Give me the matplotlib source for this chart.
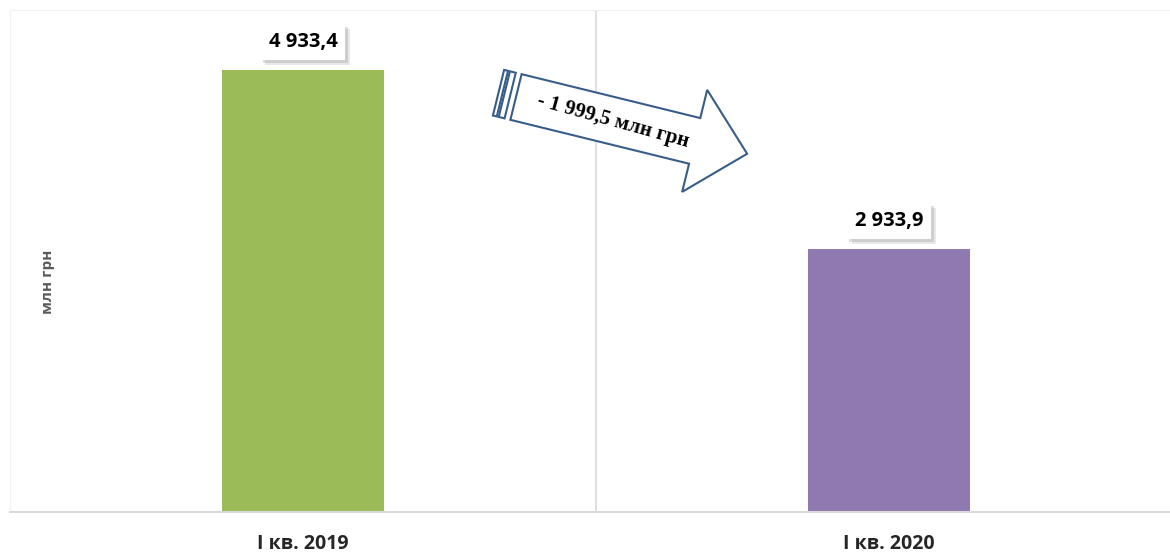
import matplotlib
matplotlib.use("Agg")
import matplotlib.pyplot as plt
import matplotlib.patheffects as pe
from matplotlib.patches import Polygon
from matplotlib.transforms import Affine2D

# Data
kategorier = ["І кв. 2019", "І кв. 2020"]
verdier = [4933.4, 2933.9]
etiketter = ["4 933,4", "2 933,9"]
farger = ["#9BBB59", "#9079B0"]
endring_tekst = "- 1 999,5 млн грн"
y_tekst = "млн грн"

W, H = 1170, 552
fig = plt.figure(figsize=(W / 100, H / 100), dpi=100)

# Axes: left edge at x=10, top at y=10, bottom at y=512 (pixels)
ax = fig.add_axes([10 / W, (H - 512) / H, 1 - 10 / W, (512 - 10) / H])
x = range(len(kategorier))
stolper = ax.bar(x, verdier, width=0.276, color=farger, zorder=2)

ax.set_xlim(-0.5, 0.5 + (1170 - 596) / 586)
ax.set_ylim(0, 5603)
ax.set_xticks([])
ax.set_yticks([])

# Frame: very light outer border, grey base line
for side in ["left", "top", "right"]:
    ax.spines[side].set_color("#F0F0F0")
ax.spines["right"].set_visible(False)
ax.spines["bottom"].set_color("#D9D9D9")
ax.spines["bottom"].set_linewidth(1.5)

# Vertical separator between categories
ax.axvline(0.5, color="#D9D9D9", linewidth=1.2, zorder=1)

# Value labels in white boxes with soft shadow
for xi, v, lab in zip(x, verdier, etiketter):
    t = ax.annotate(lab, (xi, v), xytext=(0, 20), textcoords="offset points",
                    ha="center", va="center", fontsize=14.5, fontweight="bold",
                    family="Open Sans", color="black",
                    bbox=dict(boxstyle="square,pad=0.4", fc="white", ec="none"),
                    zorder=5)
    t.get_bbox_patch().set_path_effects(
        [pe.withSimplePatchShadow(offset=(3.5, -3.5), shadow_rgbFace="#BFBFBF", alpha=0.35),
         pe.withSimplePatchShadow(offset=(2, -2), shadow_rgbFace="#9F9F9F", alpha=0.35)])

# Category labels
for xi, kat in zip(x, kategorier):
    ax.text(xi, -0.064, kat, transform=ax.get_xaxis_transform(), ha="center", va="center",
            fontsize=14, fontweight="bold", family="Open Sans", color="#262626")

# Y label
fig.text(48 / W, (H - 282) / H, y_tekst, rotation=90, ha="center", va="center",
         fontsize=11, fontweight="bold", family="Open Sans", color="#595959")

# Striped block arrow (local coords in pixels, rotated)
vinkel = -13.8
shaft_len, shaft_half, head_half, head_len = 184, 23.5, 52.5, 54
pil = [(0, shaft_half), (shaft_len, shaft_half), (shaft_len, head_half),
       (shaft_len + head_len, 0), (shaft_len, -head_half), (shaft_len, -shaft_half),
       (0, -shaft_half)]
striper = [[(-12, shaft_half), (-6, shaft_half), (-6, -shaft_half), (-12, -shaft_half)],
           [(-18, shaft_half), (-14, shaft_half), (-14, -shaft_half), (-18, -shaft_half)]]
tr = Affine2D().rotate_deg(vinkel).translate(516, H - 97).scale(1 / W, 1 / H) + fig.transFigure
for pts in [pil] + striper:
    fig.patches.append(Polygon(pts, closed=True, fc="white", ec="#385D8A", lw=1.5,
                               transform=tr, zorder=6))

fig.text(613 / W, (H - 121) / H, endring_tekst, rotation=-15.5, ha="center", va="center",
         fontsize=15, fontweight="bold", family="Liberation Serif", color="black",
         rotation_mode="anchor", zorder=7)

fig.savefig("out.png", dpi=100)
